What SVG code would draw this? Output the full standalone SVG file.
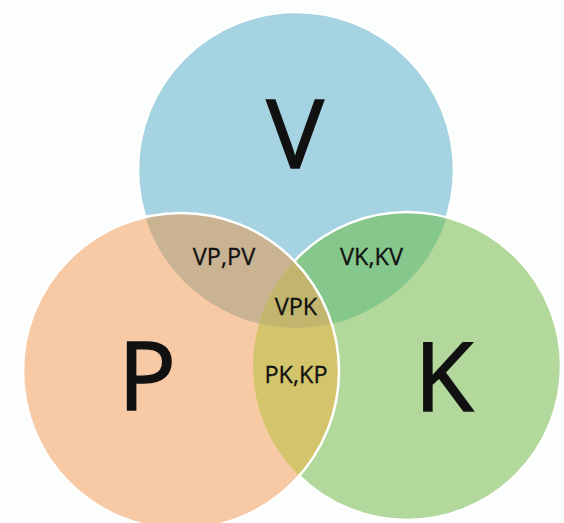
<svg xmlns="http://www.w3.org/2000/svg" width="564" height="523" viewBox="0 0 564 523">
<style>
.big{font-family:"Open Sans","DejaVu Sans",sans-serif;font-size:96px;fill:#111;stroke:#111;stroke-width:1.6;text-anchor:middle}
.lbl{font-family:"Open Sans","DejaVu Sans",sans-serif;font-size:23.5px;fill:#111;stroke:#111;stroke-width:0.3;text-anchor:middle}
.edge{fill:none;stroke:#ffffff;stroke-width:2.5}
</style>
<defs>
<clipPath id="cV"><circle cx="296" cy="170" r="158"/></clipPath>
<clipPath id="cK"><circle cx="407" cy="366" r="154"/></clipPath>
<clipPath id="cP"><circle cx="181" cy="371" r="158"/></clipPath>
</defs>
<rect width="564" height="523" fill="#fcfdfd"/>
<g id="V">
<circle cx="296" cy="170" r="158" fill="#a5d3e2"/>
<circle class="edge" cx="296" cy="170" r="158"/>
</g>
<g id="K">
<circle cx="407" cy="366" r="154" fill="#b2d89b"/>
<circle cx="407" cy="366" r="154" fill="#86c88b" clip-path="url(#cV)"/>
<circle class="edge" cx="407" cy="366" r="154"/>
</g>
<g id="P">
<circle cx="181" cy="371" r="158" fill="#f8c9a5"/>
<circle cx="181" cy="371" r="158" fill="#c9b393" clip-path="url(#cV)"/>
<circle cx="181" cy="371" r="158" fill="#d4c56c" clip-path="url(#cK)"/>
<g clip-path="url(#cV)"><circle cx="181" cy="371" r="158" fill="#c2b66e" clip-path="url(#cK)"/></g>
<circle class="edge" cx="181" cy="371" r="158"/>
</g>
<g id="labels">
<text class="big" x="295" y="168">V</text>
<text class="big" x="147" y="410">P</text>
<text class="big" x="444" y="411">K</text>
<text class="lbl" x="224" y="265">VP,PV</text>
<text class="lbl" x="371.5" y="265">VK,KV</text>
<text class="lbl" x="296" y="315">VPK</text>
<text class="lbl" x="296" y="383">PK,KP</text>
</g>
</svg>
